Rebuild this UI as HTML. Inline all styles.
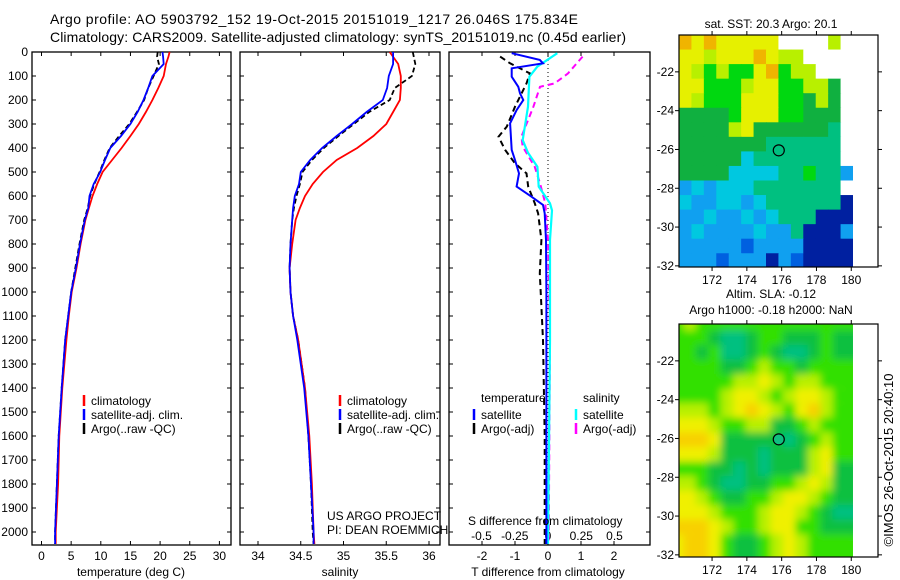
<!DOCTYPE html>
<html><head><meta charset="utf-8"><style>
body{margin:0;background:#fff;}
svg{display:block;font-family:"Liberation Sans",sans-serif;}
</style></head><body>
<svg id="c" width="900" height="580" viewBox="0 0 900 580" xmlns="http://www.w3.org/2000/svg">
<defs>
<clipPath id="m1c"><rect x="679" y="35" width="174" height="232"/></clipPath>
<clipPath id="m2c"><rect x="679" y="324" width="174" height="233"/></clipPath>
<filter id="bl"><feGaussianBlur stdDeviation="4"/></filter>
</defs>
<g font-size="14">
<text x="50" y="24" textLength="528">Argo profile: AO 5903792_152 19-Oct-2015 20151019_1217 26.046S 175.834E</text>
<text x="50" y="42" textLength="576">Climatology: CARS2009. Satellite-adjusted climatology: synTS_20151019.nc (0.45d earlier)</text>
</g>
<g id="p1"></g>
<g id="p2"></g>
<g id="p3"></g>
<g id="m1"></g>
<g id="m2"></g>
<text x="893" y="460" font-size="13" text-anchor="middle" transform="rotate(-90 893 460)">©IMOS 26-Oct-2015 20:40:10</text>
</svg>
<script>
// ---- data ----
const tempDepth=[0,20,50,100,150,200,250,300,350,400,450,500,550,600,650,700,800,900,1000,1100,1200,1400,1600,1800,2000,2050];
const tempClim=[21.6,21.4,21.0,20.6,19.7,18.7,17.6,16.4,15.0,13.5,11.9,10.3,9.4,8.6,8.0,7.4,6.6,5.9,5.1,4.6,4.2,3.5,3.0,2.8,2.4,2.4];
const tempSat=[20.4,20.5,20.6,18.7,18.0,17.2,16.2,15.0,13.4,11.6,10.7,9.9,8.8,8.1,7.9,7.3,6.5,5.8,5.0,4.5,4.0,3.4,2.9,2.6,2.3,2.3];
const tempArgo=[19.6,19.5,19.8,18.9,18.0,17.3,16.1,14.8,13.1,11.5,10.6,9.8,8.9,8.2,7.8,7.2,6.4,5.7,5.0,4.5,4.0,3.4,2.9,2.6,2.3,2.3];
const salDepth=[0,50,100,150,200,250,300,350,400,450,500,550,600,650,700,800,900,1000,1100,1200,1400,1600,1800,2000,2050];
const salClim=[35.54,35.64,35.67,35.67,35.66,35.58,35.50,35.35,35.16,34.92,34.76,34.64,34.55,34.49,34.44,34.40,34.37,34.38,34.41,34.47,34.55,34.60,34.63,34.65,34.66];
const salSat=[35.58,35.58,35.53,35.51,35.46,35.27,35.10,34.92,34.75,34.61,34.50,34.48,34.43,34.41,34.40,34.38,34.37,34.38,34.41,34.46,34.54,34.59,34.62,34.65,34.65];
const salArgo=[35.81,35.84,35.80,35.60,35.54,35.30,35.12,34.94,34.77,34.63,34.52,34.49,34.45,34.42,34.40,34.38,34.37,34.38,34.41,34.47,34.55,34.59,34.62,34.64,34.65];
const dTDepth=[5,33,47,68,103,145,172,200,242,297,408,450,506,561,603,637,672,783,1000,1200,1600,2050];
const dTSat=[-1.1,-0.25,-0.15,-1.1,-1.1,-0.9,-0.85,-0.75,-0.95,-1.15,-1.1,-1.0,-0.88,-0.95,-0.5,-0.15,-0.1,-0.06,-0.05,-0.05,-0.05,-0.05];
const dTArgoDepth=[19,47,89,131,228,311,353,408,464,506,561,631,672,783,922,1061,1200,1600,2050];
const dTArgo=[-1.45,-1.15,-0.55,-0.65,-1.0,-1.25,-1.5,-1.3,-1.0,-0.65,-0.6,-0.4,-0.3,-0.2,-0.25,-0.2,-0.15,-0.1,-0.1];
const dSDepth=[5,61,103,228,367,420,478,561,631,660,783,1200,2050];
const dSSat=[0.07,-0.08,-0.14,-0.15,-0.19,-0.15,-0.08,-0.07,0.015,0.03,0.015,0.015,0.0];
const dSArgoDepth=[19,89,131,145,228,353,394,478,547,631,783,1200,2050];
const dSArgo=[0.26,0.15,0.05,-0.06,-0.11,-0.2,-0.19,-0.1,-0.06,-0.02,0.0,0.015,0.005];
const depthTicks=[0,100,200,300,400,500,600,700,800,900,1000,1100,1200,1300,1400,1500,1600,1700,1800,1900,2000];
const tempTicks=[0,5,10,15,20,25,30];
const salTicks=[34,34.5,35,35.5,36];
const dTTicks=[-2,-1,0,1,2];
const dSTicks=[-0.5,-0.25,0,0.25,0.5];
const dSTickLabels=["-0.5","-0.25","0","0.25","0.5"];
const lonTicks=[172,174,176,178,180];
const latTicks=[-22,-24,-26,-28,-30,-32];
const sstRows=["OYOYYYYYWWWWLW","YYLYYYOYLLWWWW","YLGLGGYOGLLWWW","YYGGGLYYGGLLDW","YLGGGYYYGGDLDW","DDDDGYYYGGDDDW","DDDDLYDDDDDDTW","DDDDDDDTTTTTTW","DDDDDCTTTTTTTW","DDDDCCCCTTGTTB","BCBCCCTTTTTTTW","CBBCCBCTTTTTTN","BBCBBCBCTTTNNN","BCBBBBCBBTNNNB","BBBBBMBBBBNNNN","BBBMBBBNBMNNNN"];
const slaRows=["GyGGGGGGGGGGGG","GGGtTTtGGtttGt","GGtGTTtGtTTtGt","GGGGttGyGGtGGG","GGGGGyyYyGyyGG","GGGGyYYyGyYYyG","yyyGyYOYyGYOyG","YYYyGGyyttGyGG","OOOYtttttTtGyG","YYYytttTtttyYG","GGGttTtTtttyYt","yyGtTTttGGyYyt","YYyGttGGyYYyGt","YYYyGGGyYYyGtT","OOOYyGGyYYGGtt","YOOYGttGyYyGGG"];
const argoLon=175.834, argoLat=-26.046;
// ---- helpers ----
const NS="http://www.w3.org/2000/svg";
function mk(tag,attrs,parent,txt){const e=document.createElementNS(NS,tag);for(const k in attrs)e.setAttribute(k,attrs[k]);if(txt!==undefined)e.textContent=txt;parent.appendChild(e);return e;}
const Y0=52,DPX=0.24,YB=545;
const yD=d=>Y0+d*DPX;
function line(parent,xs,ds,xf,color,w,dash,name){
  const pts=xs.map((v,i)=>xf(v).toFixed(1)+","+yD(ds[i]).toFixed(1)).join(" ");
  const p=mk("polyline",{points:pts,fill:"none",stroke:color,"stroke-width":w},parent);
  if(dash)p.setAttribute("stroke-dasharray",dash);
  
  
}
function frame(g,x0,x1,showDepth){
  const r=mk("rect",{x:x0,y:Y0,width:x1-x0,height:YB-Y0,fill:"none",stroke:"#000","stroke-width":1.3},g);
  
  
  depthTicks.forEach(d=>{
    mk("line",{x1:x0,x2:x0+4,y1:yD(d),y2:yD(d),stroke:"#000"},g);
    mk("line",{x1:x1,x2:x1-4,y1:yD(d),y2:yD(d),stroke:"#000"},g);
    if(showDepth){const t=mk("text",{x:x0-4,y:yD(d)+4,"font-size":12,"text-anchor":"end"},g,String(d));
      
      }
  });
}
function xticks(g,ticks,labels,xf,ly){
  ticks.forEach((v,i)=>{
    const x=xf(v);
    mk("line",{x1:x,x2:x,y1:YB,y2:YB-4,stroke:"#000"},g);
    mk("line",{x1:x,x2:x,y1:Y0,y2:Y0+4,stroke:"#000"},g);
    const t=mk("text",{x:x,y:ly,"font-size":12,"text-anchor":"middle"},g,labels[i]);
    
    
  });
}
function legend(g,x,y,color,label,dash){
  const l=mk("line",{x1:x,x2:x,y1:y-10,y2:y+1,stroke:color,"stroke-width":2.5},g);
  
  
  const t=mk("text",{x:x+7,y:y,"font-size":12},g,label);
  
  
}
// ---- panel 1 ----
const p1=document.getElementById("p1");
const xT=v=>41.5+v*5.93;
frame(p1,32,231,true);
xticks(p1,tempTicks,tempTicks.map(String),xT,560);
line(p1,tempArgo,tempDepth,xT,"#000",1.8,"5,3","temp-argo-line");
line(p1,tempClim,tempDepth,xT,"#f00",1.8,null,"temp-climatology-line");
line(p1,tempSat,tempDepth,xT,"#00f",1.8,null,"temp-satellite-line");
legend(p1,84,405,"#f00","climatology");legend(p1,84,419,"#00f","satellite-adj. clim.");legend(p1,84,433,"#000","Argo(..raw -QC)");
let t=mk("text",{x:131,y:576,"font-size":12,"text-anchor":"middle"},p1,"temperature (deg C)");

// ---- panel 2 ----
const p2=document.getElementById("p2");
const xS=v=>258+(v-34)*85.5;
frame(p2,240,440,false);
xticks(p2,salTicks,salTicks.map(String),xS,560);
line(p2,salArgo,salDepth,xS,"#000",1.8,"5,3","sal-argo-line");
line(p2,salClim,salDepth,xS,"#f00",1.8,null,"sal-climatology-line");
line(p2,salSat,salDepth,xS,"#00f",1.8,null,"sal-satellite-line");
legend(p2,340,405,"#f00","climatology");legend(p2,340,419,"#00f","satellite-adj. clim.");legend(p2,340,433,"#000","Argo(..raw -QC)");
t=mk("text",{x:340,y:576,"font-size":12,"text-anchor":"middle"},p2,"salinity");

t=mk("text",{x:327,y:520,"font-size":12},p2,"US ARGO PROJECT");

t=mk("text",{x:327,y:534,"font-size":12},p2,"PI: DEAN ROEMMICH");

// ---- panel 3 ----
const p3=document.getElementById("p3");
const xdT=v=>548+v*33, xdS=v=>548+v*133;
frame(p3,449,650,false);
xticks(p3,dTTicks,dTTicks.map(String),xdT,560);
mk("line",{x1:548,x2:548,y1:Y0,y2:YB,stroke:"#000","stroke-dasharray":"1,3"},p3);
dSTicks.forEach((v,i)=>{const tt=mk("text",{x:xdS(v),y:540,"font-size":12,"text-anchor":"middle"},p3,dSTickLabels[i]);
  });
line(p3,dTArgo,dTArgoDepth,xdT,"#000",2,"6,4","tdiff-argo-line");
line(p3,dSArgo,dSArgoDepth,xdS,"#f0f",2,"6,4","sdiff-argo-line");
line(p3,dSSat,dSDepth,xdS,"#0ff",2.2,null,"sdiff-satellite-line");
line(p3,dTSat,dTDepth,xdT,"#00f",2,null,"tdiff-satellite-line");
t=mk("text",{x:481,y:402,"font-size":12},p3,"temperature");
t=mk("text",{x:583,y:402,"font-size":12},p3,"salinity");
legend(p3,474,419,"#00f","satellite");legend(p3,474,433,"#000","Argo(-adj)");
legend(p3,576,419,"#0ff","satellite");legend(p3,576,433,"#f0f","Argo(-adj)");
t=mk("text",{x:468,y:525,"font-size":12},p3,"S difference from climatology");
t=mk("text",{x:548,y:576,"font-size":12,"text-anchor":"middle"},p3,"T difference from climatology");
// ---- maps ----
const MX0=679,MX1=878,LON0=170.1,LONPX=17.4,LAT0=-20.1,LATPX=19.4;
const lonX=v=>MX0+(v-LON0)*LONPX;
function map(g,rows,pal,y0,y1,clip,blur,title1,title2,circFill){
  const cg=mk("g",{"clip-path":"url(#"+clip+")"},g);
  const inner=mk("g",blur?{filter:"url(#bl)"}:{},cg);
  const latY=v=>y0+(LAT0-v)*LATPX;
  const nr=rows.length,nc=rows[0].length,cw=(180.1-LON0)/nc,ch=12/nr;
  rows.forEach((row,r)=>{[...row].forEach((k,c)=>{
    const x=lonX(LON0+c*cw),y=latY(LAT0-r*ch);
    const cell=mk("rect",{x:x-(blur?8:0),y:y-(blur?8:0),width:cw*LONPX+(blur?16:0.6),height:ch*LATPX+(blur?16:0.6),fill:pal[k]},inner);
    
    
  });});
  if(blur){mk("rect",{x:lonX(180.1),y:y0,width:30,height:y1-y0,fill:"#fff"},cg);}
  const fr=mk("rect",{x:MX0,y:y0,width:MX1-MX0,height:y1-y0,fill:"none",stroke:"#000","stroke-width":1.2},g);
  
  lonTicks.forEach(v=>{const x=lonX(v);
    mk("line",{x1:x,x2:x,y1:y1,y2:y1+4,stroke:"#000"},g);mk("line",{x1:x,x2:x,y1:y0,y2:y0-4,stroke:"#000"},g);
    const tt=mk("text",{x:x,y:y1+17,"font-size":12,"text-anchor":"middle"},g,String(v));
    });
  latTicks.forEach(v=>{const y=latY(v);
    mk("line",{x1:MX0,x2:MX0-4,y1:y,y2:y,stroke:"#000"},g);mk("line",{x1:MX1,x2:MX1+4,y1:y,y2:y,stroke:"#000"},g);
    const tt=mk("text",{x:MX0-5,y:y+4,"font-size":12,"text-anchor":"end"},g,String(v));
    });
  const c=mk("circle",{cx:lonX(argoLon),cy:latY(argoLat),r:5.5,fill:circFill,stroke:"#000","stroke-width":1.2},g);
  
  if(title1){const tt=mk("text",{x:771,y:y0-(title2?26:7),"font-size":12,"text-anchor":"middle"},g,title1);}
  if(title2){const tt=mk("text",{x:771,y:y0-10,"font-size":12,"text-anchor":"middle"},g,title2);}
}
map(document.getElementById("m1"),sstRows,{O:"#f0b400",Y:"#e6f000",L:"#b8f000",G:"#00d810",D:"#10b040",T:"#00c080",C:"#00c8e0",B:"#10a0f0",M:"#0060e0",N:"#0020a0",W:"#fff"},35,267,"m1c",false,"sat. SST: 20.3 Argo: 20.1",null,"none");
map(document.getElementById("m2"),slaRows,{G:"#30e000",y:"#b8f000",Y:"#f0f000",O:"#f8d000",t:"#10c040",T:"#00c080"},324,557,"m2c",true,"Altim. SLA: -0.12","Argo h1000: -0.18 h2000: NaN","#10c080");
</script>
</body></html>
